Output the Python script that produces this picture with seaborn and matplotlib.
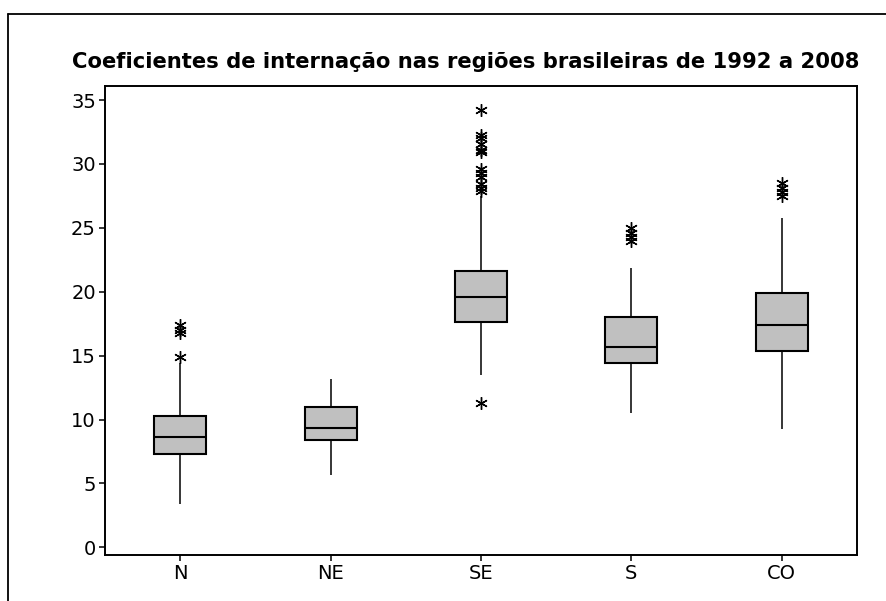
import numpy as np
import pandas as pd
import seaborn as sns
import matplotlib.pyplot as plt
from matplotlib.lines import Line2D

# summary values
regions = ["N", "NE", "SE", "S", "CO"]
q1 = [7.28, 8.38, 17.6, 14.4, 15.4]
median = [8.64, 9.32, 19.6, 15.7, 17.4]
q3 = [10.25, 10.96, 21.6, 18.0, 19.9]
whisker_low = [3.37, 5.64, 13.5, 10.5, 9.24]
whisker_high = [14.4, 13.2, 27.5, 21.85, 25.8]

outliers_n = [17.4, 17.0, 16.75, 14.9]
outliers_ne = []
outliers_se = [34.2, 32.3, 32.0, 31.6, 31.1, 30.9, 29.6, 29.3, 29.0, 28.4, 28.1, 27.9, 11.3]
outliers_s = [25.0, 24.6, 24.3, 24.0]
outliers_co = [28.5, 28.1, 27.8, 27.5]
outliers = [outliers_n, outliers_ne, outliers_se, outliers_s, outliers_co]

# long-form table: each quartile value is repeated so the
# box statistics seaborn computes land on the values read above
REP = 40
rows = []
for i, reg in enumerate(regions):
    vals = ([whisker_low[i]] + [q1[i]] * REP + [median[i]] * REP
            + [q3[i]] * REP + [whisker_high[i]] + outliers[i])
    for v in vals:
        rows.append((reg, v))
df = pd.DataFrame(rows, columns=["regiao", "coef"])

sns.set_style("ticks")
plt.rcParams["font.family"] = ["DejaVu Sans"]
plt.rcParams["text.color"] = "black"
plt.rcParams["xtick.color"] = "black"
plt.rcParams["ytick.color"] = "black"
plt.rcParams["xtick.labelcolor"] = "black"
plt.rcParams["ytick.labelcolor"] = "black"

W, H = 887, 601
fig = plt.figure(figsize=(W / 100, H / 100), dpi=100)
ax = fig.add_axes([105 / W, 1 - 555 / H, (857 - 105) / W, (555 - 86) / H])

sns.boxplot(data=df, x="regiao", y="coef", order=regions, ax=ax,
            color="#c0c0c0", saturation=1, width=0.345,
            linecolor="black", linewidth=1.5, showcaps=False,
            whiskerprops=dict(linewidth=1.1),
            flierprops=dict(marker=(6, 2, 0), markersize=9,
                            markeredgecolor="black", markeredgewidth=1.0))

ax.set_xlim(-0.5, 4.5)
ax.set_ylim(-0.6, 36.1)
ax.set_yticks(range(0, 36, 5))
ax.set_xlabel("")
ax.set_ylabel("")
ax.tick_params(axis="both", direction="out", length=4.5, width=1.1,
               color="black", labelcolor="black", labelsize=14, pad=2)
for sp in ax.spines.values():
    sp.set_visible(True)
    sp.set_linewidth(1.4)
    sp.set_color("black")

fig.text(466 / W, 1 - 68 / H,
         "Coeficientes de internação nas regiões brasileiras de 1992 a 2008",
         ha="center", va="baseline", fontsize=15.2, fontweight="bold",
         color="black")

# outer frame (top and left edges visible)
fig.add_artist(Line2D([8.5 / W, 1.0], [1 - 13.5 / H, 1 - 13.5 / H],
                      transform=fig.transFigure, color="black", lw=1.3))
fig.add_artist(Line2D([8.5 / W, 8.5 / W], [0, 1 - 13.5 / H],
                      transform=fig.transFigure, color="black", lw=1.3))

fig.savefig("out.png", dpi=100)
